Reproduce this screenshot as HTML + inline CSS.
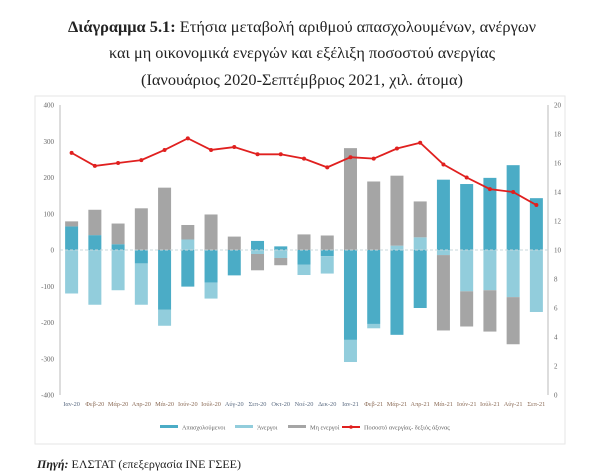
<!DOCTYPE html>
<html><head><meta charset="utf-8"><style>
html,body{margin:0;padding:0;background:#fff;}
svg{display:block;font-family:"Liberation Serif","DejaVu Serif",serif;}
</style></head><body>
<svg id="c" width="600" height="475" viewBox="0 0 600 475" xmlns="http://www.w3.org/2000/svg">
<g font-size="16" fill="#222" text-anchor="middle">
<text x="302" y="32" textLength="468" lengthAdjust="spacingAndGlyphs"><tspan font-weight="bold">Διάγραμμα 5.1:</tspan> Ετήσια μεταβολή αριθμού απασχολουμένων, ανέργων</text>
<text x="302" y="58" textLength="386" lengthAdjust="spacingAndGlyphs">και μη οικονομικά ενεργών και εξέλιξη ποσοστού ανεργίας</text>
<text x="302" y="85" textLength="322" lengthAdjust="spacingAndGlyphs">(Ιανουάριος 2020-Σεπτέμβριος 2021, χιλ. άτομα)</text>
</g>
<rect x="35" y="96" width="530" height="348" fill="none" stroke="#e6e6e6"/>
<g id="plot"></g>
<text x="37" y="468" font-size="12" fill="#222"><tspan font-weight="bold" font-style="italic">Πηγή:</tspan> ΕΛΣΤΑΤ (επεξεργασία ΙΝΕ ΓΣΕΕ)</text>
</svg>
<script>
const months=["Ιαν-20","Φεβ-20","Μάρ-20","Απρ-20","Μάι-20","Ιούν-20","Ιούλ-20","Αύγ-20","Σεπ-20","Οκτ-20","Νοέ-20","Δεκ-20","Ιαν-21","Φεβ-21","Μάρ-21","Απρ-21","Μάι-21","Ιούν-21","Ιούλ-21","Αύγ-21","Σεπ-21"];
const employed=[65,41,16,-37,-165,-101,-90,-70,25,10,-40,-17,-248,-204,-234,-160,194,182,199,234,143];
const unemployed=[-120,-151,-111,-114,-44,29,-44,0,-11,-22,-29,-48,-61,-12,12,35,-14,-114,-111,-130,-171];
const inactive=[14,70,57,115,172,40,98,37,-45,-20,43,40,281,189,193,99,-208,-97,-114,-130,0];
const rate=[16.7,15.8,16.0,16.2,16.9,17.7,16.9,17.1,16.6,16.6,16.3,15.7,16.4,16.3,17.0,17.4,15.9,15.0,14.2,14.0,13.1];
const leftTicks=[400,300,200,100,0,-100,-200,-300,-400];
const rightTicks=[20,18,16,14,12,10,8,6,4,2,0];

const NS="http://www.w3.org/2000/svg";
const g=document.getElementById('plot');
function el(t,a,p){const e=document.createElementNS(NS,t);for(const k in a)e.setAttribute(k,a[k]);(p||g).appendChild(e);return e;}
const X0=60,X1=548,Y0=105,Y1=395;
const n=months.length;
const step=(X1-X0)/n;
const xC=i=>X0+step*(i+0.5);
const yL=v=>Y0+(400-v)/800*(Y1-Y0);
const yR=v=>Y0+(20-v)/20*(Y1-Y0);
const bw=13;

// axes
let a=el('line',{x1:X0,y1:Y0,x2:X0,y2:Y1,stroke:'#bbb'});


a=el('line',{x1:X1,y1:Y0,x2:X1,y2:Y1,stroke:'#bbb'});


leftTicks.forEach(v=>{
  const t=el('text',{x:X0-6,y:yL(v)+2.5,'font-size':7,fill:'#666','text-anchor':'end'});t.textContent=v;
  
  
});
rightTicks.forEach(v=>{
  const t=el('text',{x:X1+6,y:yR(v)+2.5,'font-size':7,fill:'#666'});t.textContent=v;
  
  
});
// bars
const series=[[employed,'#4bacc6','bar-employed'],[unemployed,'#92cddc','bar-unemployed'],[inactive,'#a5a5a5','bar-inactive']];
months.forEach((m,i)=>{
  let pos=0,neg=0;
  series.forEach(([arr,col,name])=>{
    const v=arr[i];let top,bot;
    if(v>=0){top=pos+v;bot=pos;pos=top;}else{top=neg;bot=neg+v;neg=bot;}
    const r=el('rect',{x:xC(i)-bw/2,y:yL(top),width:bw,height:Math.max(0,yL(bot)-yL(top)),fill:col});
    
    
  });
  const t=el('text',{x:xC(i),y:406,'font-size':6.3,fill:(i>0&&i<7)||(i>12)?'#8a6a55':'#5a6a80','text-anchor':'middle'});t.textContent=m;
  
  
});
a=el('line',{x1:X0,y1:yL(0),x2:X1,y2:yL(0),stroke:'#c8d8dc','stroke-dasharray':'3,2'});


// line
const pl=el('polyline',{points:rate.map((v,i)=>xC(i)+','+yR(v)).join(' '),fill:'none',stroke:'#e0201f','stroke-width':1.8});


rate.forEach((v,i)=>{
  const c=el('circle',{cx:xC(i),cy:yR(v),r:2,fill:'#e0201f'});
  
  
});
// legend
const leg=[['Απασχολούμενοι','#4bacc6',160,false],['Άνεργοι','#92cddc',235,false],['Μη ενεργοί','#a5a5a5',288,false],['Ποσοστό ανεργίας- δεξιός άξονας','#e0201f',342,true]];
leg.forEach(([lab,col,x,isLine])=>{
  const gg=el('g',{});
  
  
  el('rect',{x:x,y:isLine?426:425,width:18,height:isLine?2:3,fill:col},gg);
  if(isLine)el('circle',{cx:x+9,cy:427,r:1.8,fill:col},gg);
  const t=el('text',{x:x+22,y:429.5,'font-size':6.3,fill:'#666'},gg);t.textContent=lab;
});
</script>
</body></html>
